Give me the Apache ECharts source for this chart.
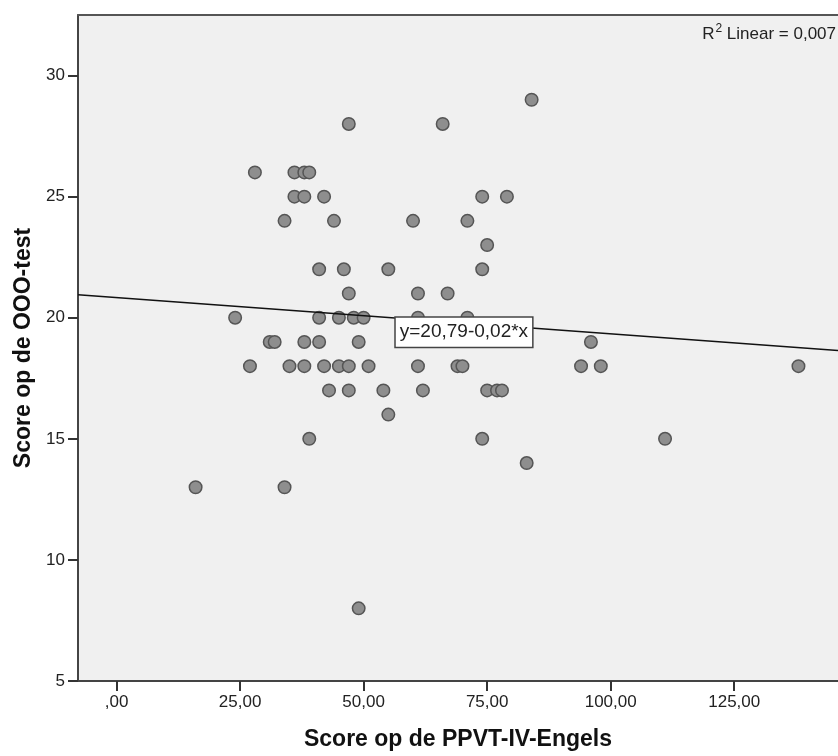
<!DOCTYPE html>
<html>
<head>
<meta charset="utf-8">
<script src="https://cdn.jsdelivr.net/npm/echarts@6/dist/echarts.min.js"></script>
<style>
  html, body { margin: 0; padding: 0; background: #fff; }
  #chart { width: 838px; height: 756px; }
</style>
</head>
<body>
<div id="chart"></div>
<script>
// PPVT-IV-Engels score (x) vs OOO-test score (y), one entry per pupil
const ppvtScores = [
  84,
  47, 66,
  28, 36, 38, 39,
  36, 38, 42, 74, 79,
  34, 44, 60, 71,
  75,
  41, 46, 55, 74,
  47, 61, 67,
  24, 41, 45, 48, 50, 61, 71,
  31, 32, 38, 41, 49, 96,
  27, 35, 38, 42, 45, 47, 51, 61, 69, 70, 94, 98, 138,
  43, 47, 54, 62, 75, 77, 78,
  55,
  39, 74, 111,
  83,
  16, 34,
  49
]
const oooScores = [
  29,
  28, 28,
  26, 26, 26, 26,
  25, 25, 25, 25, 25,
  24, 24, 24, 24,
  23,
  22, 22, 22, 22,
  21, 21, 21,
  20, 20, 20, 20, 20, 20, 20,
  19, 19, 19, 19, 19, 19,
  18, 18, 18, 18, 18, 18, 18, 18, 18, 18, 18, 18, 18,
  17, 17, 17, 17, 17, 17, 17,
  16,
  15, 15, 15,
  14,
  13, 13,
  8
]
const xTicks = [0, 25, 50, 75, 100, 125]
const yTicks = [5, 10, 15, 20, 25, 30]
const xRange = [-7.8, 146]
const yRange = [5, 32.5]
const fitText = 'y=20,79-0,02*x'
const r2Text = '0,007'

const points = ppvtScores.map((x, i) => [x, oooScores[i]])

// least squares fit line (the "R2 Linear" line from SPSS)
const n = points.length
const mx = ppvtScores.reduce((a, b) => a + b, 0) / n
const my = oooScores.reduce((a, b) => a + b, 0) / n
let sxy = 0
let sxx = 0
points.forEach(([x, y]) => {
  sxy += (x - mx) * (y - my)
  sxx += (x - mx) * (x - mx)
})
const slope = sxy / sxx
const intercept = my - slope * mx
const fitLine = xRange.map((x) => [x, intercept + slope * x])

const fmtX = (v) => (v === 0 ? ',00' : v.toFixed(2).replace('.', ','))
const font = '"Liberation Sans", Arial, sans-serif'

const chart = echarts.init(document.getElementById('chart'))
const option = {
  animation: false,
  textStyle: { fontFamily: font },
  grid: {
    left: 78,
    right: 0,
    top: 15,
    bottom: 75,
    show: true,
    backgroundColor: '#f0f0f0',
    borderWidth: 0
  },
  xAxis: [
    {
      type: 'value',
      min: xRange[0],
      max: xRange[1],
      name: 'Score op de PPVT-IV-Engels',
      nameLocation: 'middle',
      nameGap: 47,
      nameTextStyle: { fontSize: 23, fontWeight: 'bold', color: '#111' },
      axisLine: { onZero: false, lineStyle: { color: '#444', width: 2 } },
      axisTick: { customValues: xTicks, length: 10, lineStyle: { color: '#333', width: 2 } },
      axisLabel: { customValues: xTicks, formatter: fmtX, fontSize: 17, color: '#222', margin: 13 },
      splitLine: { show: false }
    },
    {
      // top border of the plot frame
      type: 'value',
      position: 'top',
      min: xRange[0],
      max: xRange[1],
      axisLine: { show: true, onZero: false, lineStyle: { color: '#555', width: 2 } },
      axisTick: { show: false },
      axisLabel: { show: false },
      splitLine: { show: false }
    }
  ],
  yAxis: {
    type: 'value',
    min: yRange[0],
    max: yRange[1],
    name: 'Score op de OOO-test',
    nameLocation: 'middle',
    nameGap: 43,
    nameTextStyle: { fontSize: 23, fontWeight: 'bold', color: '#111' },
    axisLine: { show: true, onZero: false, lineStyle: { color: '#444', width: 2 } },
    axisTick: { show: true, customValues: yTicks, length: 10, lineStyle: { color: '#333', width: 2 } },
    axisLabel: { customValues: yTicks, fontSize: 17, color: '#222', margin: 13 },
    splitLine: { show: false }
  },
  series: [
    {
      type: 'line',
      data: fitLine,
      symbol: 'none',
      lineStyle: { color: '#111', width: 1.6 },
      z: 3,
      markPoint: {
        symbol: 'rect',
        symbolSize: 0,
        data: [{ coord: [70.3, 19.4] }],
        label: {
          show: true,
          position: 'inside',
          formatter: fitText,
          fontSize: 19,
          color: '#222',
          backgroundColor: '#fff',
          borderColor: '#444',
          borderWidth: 1.5,
          padding: [6, 4, 4, 4]
        }
      }
    },
    {
      type: 'scatter',
      data: points,
      symbol: 'circle',
      symbolSize: 12.5,
      itemStyle: { color: '#8e8e8e', borderColor: '#555', borderWidth: 1.5, opacity: 1 },
      z: 2
    }
  ],
  graphic: [
    {
      type: 'text',
      right: 2,
      top: 23,
      style: {
        text: '{a|R}{s|2}{a| Linear = ' + r2Text + '}',
        rich: {
          a: { fontSize: 17, fontFamily: font, fill: '#222', verticalAlign: 'bottom' },
          s: { fontSize: 12, fontFamily: font, fill: '#222', verticalAlign: 'top', padding: [0, 0, 8, 1] }
        }
      }
    }
  ]
}
chart.setOption(option)
window.addEventListener('resize', () => {
  chart.resize()
})
</script>
</body>
</html>
